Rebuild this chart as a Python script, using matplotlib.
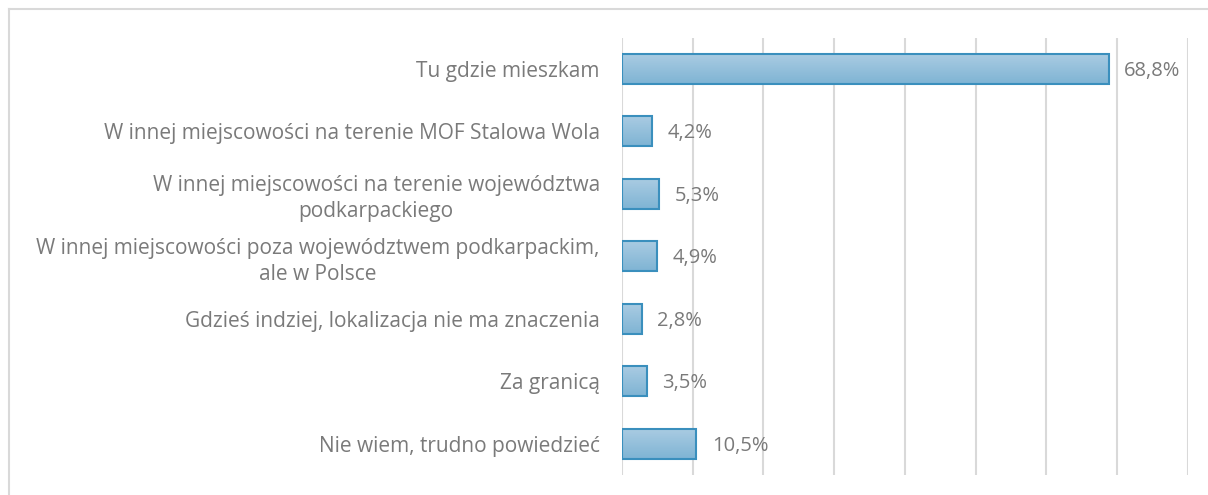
import matplotlib
matplotlib.use("Agg")
import matplotlib.pyplot as plt
import numpy as np

categories = [
    "Tu gdzie mieszkam",
    "W innej miejscowości na terenie MOF Stalowa Wola",
    "W innej miejscowości na terenie województwa\npodkarpackiego",
    "W innej miejscowości poza województwem podkarpackim,\nale w Polsce",
    "Gdzieś indziej, lokalizacja nie ma znaczenia",
    "Za granicą",
    "Nie wiem, trudno powiedzieć",
]
values = [68.8, 4.2, 5.3, 4.9, 2.8, 3.5, 10.5]

plt.rcParams["font.family"] = ["Open Sans", "DejaVu Sans"]
text_color = "#7a7a7a"

fig = plt.figure(figsize=(12.08, 4.95), dpi=100)
ax = fig.add_axes([0.5149, 0.0404, 0.4685, 0.8833])

# frame edges (top and left) of the chart area
fig.add_artist(plt.Line2D([0.0075, 1.0], [0.9818, 0.9818], transform=fig.transFigure,
                          color="#d9d9d9", linewidth=1.5))
fig.add_artist(plt.Line2D([0.0075, 0.0075], [0.0, 0.9818], transform=fig.transFigure,
                          color="#d9d9d9", linewidth=1.5))

y = np.arange(len(categories))
bars = ax.barh(y, values, height=0.48, color="none", edgecolor="#3a8fbd",
               linewidth=1.5, zorder=3)

# vertical gradient inside each bar
grad = np.linspace(0, 1, 64).reshape(-1, 1)
cmap = matplotlib.colors.LinearSegmentedColormap.from_list(
    "bar", ["#a9cbe2", "#7fb4d4"])
for b in bars:
    x0, y0 = b.get_x(), b.get_y()
    w, h = b.get_width(), b.get_height()
    im = ax.imshow(grad, extent=[x0, x0 + w, y0 + h, y0], aspect="auto",
                   cmap=cmap, zorder=2, origin="upper")
    im.set_clip_path(b)

for yi, v in zip(y, values):
    ax.text(v + 2.2, yi + 0.03, f"{v:.1f}%".replace(".", ","), va="center",
            ha="left", fontsize=14.5, color=text_color)

ax.set_xlim(0, 80)
ax.set_ylim(len(categories) - 0.5, -0.5)
ax.set_xticks(np.arange(0, 81, 10))
ax.xaxis.grid(True, color="#d9d9d9", linewidth=1.5, zorder=0)
ax.set_axisbelow(True)
ax.tick_params(axis="x", length=0, labelbottom=False)
ax.tick_params(axis="y", length=0, pad=16)
ax.set_yticks(y)
ax.set_yticklabels(categories, fontsize=15, color=text_color,
                   multialignment="center", linespacing=1.3)
for s in ax.spines.values():
    s.set_visible(False)

fig.savefig("out.png", dpi=100)
